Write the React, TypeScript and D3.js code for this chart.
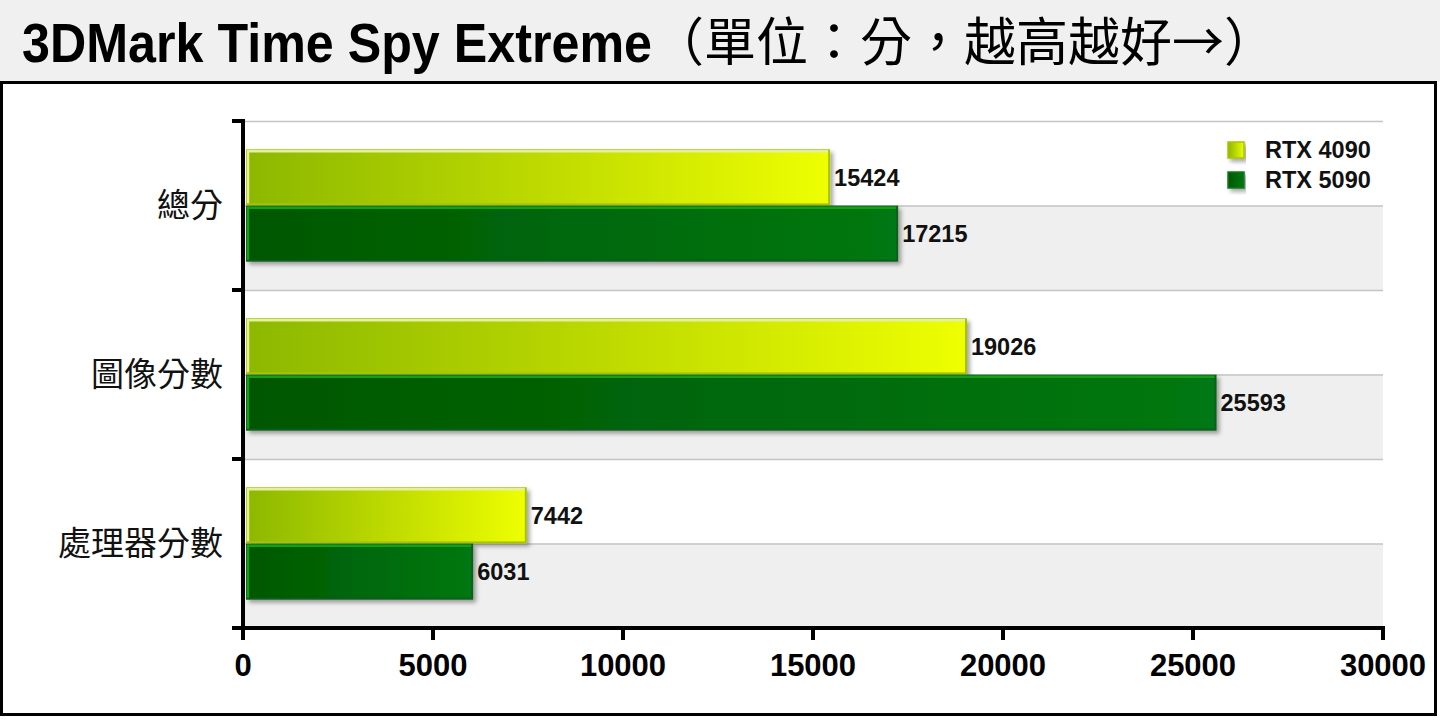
import { useEffect, useRef } from 'react';
import * as d3 from 'd3';

const categories = ['總分', '圖像分數', '處理器分數'];
const seriesNames = ['RTX 4090', 'RTX 5090'];
const rtx4090 = [15424, 19026, 7442];
const rtx5090 = [17215, 25593, 6031];
const xTicks = [0, 5000, 10000, 15000, 20000, 25000, 30000];

const W = 1440;
const H = 720;
const LATIN = '"Liberation Sans", Arial, sans-serif';
const CJK = '"Noto Sans CJK TC", "Noto Sans CJK SC", sans-serif';

export default function App() {
  const ref = useRef<SVGSVGElement | null>(null);

  useEffect(() => {
    if (!ref.current) return;
    const svg = d3.select(ref.current);
    svg.selectAll('*').remove();

    const left = 243;
    const right = 1383;
    const top = 121;
    const bottom = 628;

    const x = d3.scaleLinear().domain([0, 30000]).range([left, right]);
    const y = d3.scaleBand<string>().domain(categories).range([top, bottom]);
    const inner = d3
      .scaleBand<string>()
      .domain(seriesNames)
      .range([0, y.bandwidth()])
      .paddingInner(0.04)
      .paddingOuter(0.52);

    const defs = svg.append('defs');
    const g1 = defs.append('linearGradient').attr('id', 'g4090');
    g1.append('stop').attr('offset', '0%').attr('stop-color', '#8cb800');
    g1.append('stop').attr('offset', '55%').attr('stop-color', '#c2dd00');
    g1.append('stop').attr('offset', '100%').attr('stop-color', '#eeff00');
    const g2 = defs.append('linearGradient').attr('id', 'g5090');
    g2.append('stop').attr('offset', '0%').attr('stop-color', '#005700');
    g2.append('stop').attr('offset', '100%').attr('stop-color', '#007812');
    const sh = defs.append('filter').attr('id', 'shadow').attr('x', '-5%').attr('y', '-20%').attr('width', '115%').attr('height', '160%');
    sh.append('feDropShadow')
      .attr('dx', 3)
      .attr('dy', 3)
      .attr('stdDeviation', 2)
      .attr('flood-color', '#000')
      .attr('flood-opacity', 0.35);

    // page + title band
    svg.append('rect').attr('width', W).attr('height', H).attr('fill', '#fff');
    svg.append('rect').attr('width', W).attr('height', 82).attr('fill', '#f0f0f0');
    svg.append('rect')
      .attr('x', 1.5)
      .attr('y', 82.5)
      .attr('width', 1434)
      .attr('height', 632)
      .attr('fill', '#fff')
      .attr('stroke', '#000')
      .attr('stroke-width', 3);

    svg.append('text')
      .attr('x', 22)
      .attr('y', 62)
      .attr('font-family', LATIN)
      .attr('font-weight', 'bold')
      .attr('font-size', 55)
      .attr('textLength', 630)
      .attr('lengthAdjust', 'spacingAndGlyphs')
      .attr('fill', '#000')
      .text('3DMark Time Spy Extreme');
    svg.append('text')
      .attr('x', 652)
      .attr('y', 61)
      .attr('font-family', CJK)
      .attr('font-weight', 400)
      .attr('font-size', 52)
      .attr('fill', '#000')
      .text('（單位：分，越高越好→）');

    // bands and gridlines
    categories.forEach((c) => {
      const y0 = y(c)!;
      const half = y.bandwidth() / 2;
      svg.append('rect')
        .attr('x', left)
        .attr('y', y0 + half)
        .attr('width', right - left)
        .attr('height', half)
        .attr('fill', '#efefef');
      [y0, y0 + half].forEach((yy) => {
        svg.append('line')
          .attr('x1', left)
          .attr('x2', right)
          .attr('y1', yy + 0.5)
          .attr('y2', yy + 0.5)
          .attr('stroke', '#c4c4c4')
          .attr('stroke-width', 1.5);
      });
    });

    // bars
    const series = [
      { name: seriesNames[0], values: rtx4090, fill: 'url(#g4090)', stroke: '#a8c400', hi: '#e4f0a0' },
      { name: seriesNames[1], values: rtx5090, fill: 'url(#g5090)', stroke: '#0d5e1a', hi: '#14a014' },
    ];
    series.forEach((s) => {
      s.values.forEach((v, i) => {
        const by = y(categories[i])! + inner(s.name)!;
        const bh = inner.bandwidth();
        const bx = x(0) + 4;
        const bw = x(v) - bx;
        svg.append('rect')
          .attr('x', bx)
          .attr('y', by)
          .attr('width', bw)
          .attr('height', bh)
          .attr('fill', s.fill)
          .attr('stroke', s.stroke)
          .attr('stroke-width', 2)
          .attr('filter', 'url(#shadow)');
        svg.append('path')
          .attr('d', `M${bx + 1},${by + bh - 1}V${by + 1}H${x(v) - 1}`)
          .attr('fill', 'none')
          .attr('stroke', s.hi)
          .attr('stroke-width', 2.5);
        svg.append('text')
          .attr('x', x(v) + 5)
          .attr('y', by + bh / 2)
          .attr('dy', '0.36em')
          .attr('font-family', LATIN)
          .attr('font-weight', 'bold')
          .attr('font-size', 23.5)
          .attr('fill', '#111')
          .text(v);
      });
    });

    // category labels
    categories.forEach((c) => {
      svg.append('text')
        .attr('x', 223)
        .attr('y', y(c)! + y.bandwidth() / 2)
        .attr('dy', '0.36em')
        .attr('text-anchor', 'end')
        .attr('font-family', CJK)
        .attr('font-weight', 400)
        .attr('font-size', 33)
        .attr('fill', '#111')
        .text(c);
    });

    // axes
    svg.append('line')
      .attr('x1', left)
      .attr('x2', left)
      .attr('y1', top - 2)
      .attr('y2', bottom + 2)
      .attr('stroke', '#000')
      .attr('stroke-width', 4);
    const yTickPos = [...categories.map((c) => y(c)!), bottom];
    yTickPos.forEach((yy) => {
      svg.append('line')
        .attr('x1', left - 11)
        .attr('x2', left)
        .attr('y1', yy)
        .attr('y2', yy)
        .attr('stroke', '#000')
        .attr('stroke-width', 4);
    });
    svg.append('line')
      .attr('x1', left - 11)
      .attr('x2', right + 2)
      .attr('y1', bottom)
      .attr('y2', bottom)
      .attr('stroke', '#000')
      .attr('stroke-width', 4);
    xTicks.forEach((t) => {
      svg.append('line')
        .attr('x1', x(t))
        .attr('x2', x(t))
        .attr('y1', bottom)
        .attr('y2', bottom + 12)
        .attr('stroke', '#000')
        .attr('stroke-width', 4);
      svg.append('text')
        .attr('x', x(t))
        .attr('y', 676)
        .attr('text-anchor', 'middle')
        .attr('font-family', LATIN)
        .attr('font-weight', 'bold')
        .attr('font-size', 31)
        .attr('fill', '#000')
        .text(t);
    });

    // legend
    const legendColors = [
      { fill: 'url(#g4090)', stroke: '#a8c400' },
      { fill: 'url(#g5090)', stroke: '#0d7a1a' },
    ];
    seriesNames.forEach((name, i) => {
      const ly = 150 + i * 30;
      svg.append('rect')
        .attr('x', 1228)
        .attr('y', ly - 8)
        .attr('width', 16)
        .attr('height', 16)
        .attr('fill', legendColors[i].fill)
        .attr('stroke', legendColors[i].stroke)
        .attr('stroke-width', 1.5)
        .attr('filter', 'url(#shadow)');
      svg.append('text')
        .attr('x', 1265)
        .attr('y', ly)
        .attr('dy', '0.36em')
        .attr('font-family', LATIN)
        .attr('font-weight', 'bold')
        .attr('font-size', 23.5)
        .attr('fill', '#111')
        .text(name);
    });
  }, []);

  return (
    <div style={{ position: 'absolute', left: 0, top: 0 }}>
      <svg ref={ref} width={W} height={H} viewBox={`0 0 ${W} ${H}`} style={{ display: 'block' }} />
    </div>
  );
}
